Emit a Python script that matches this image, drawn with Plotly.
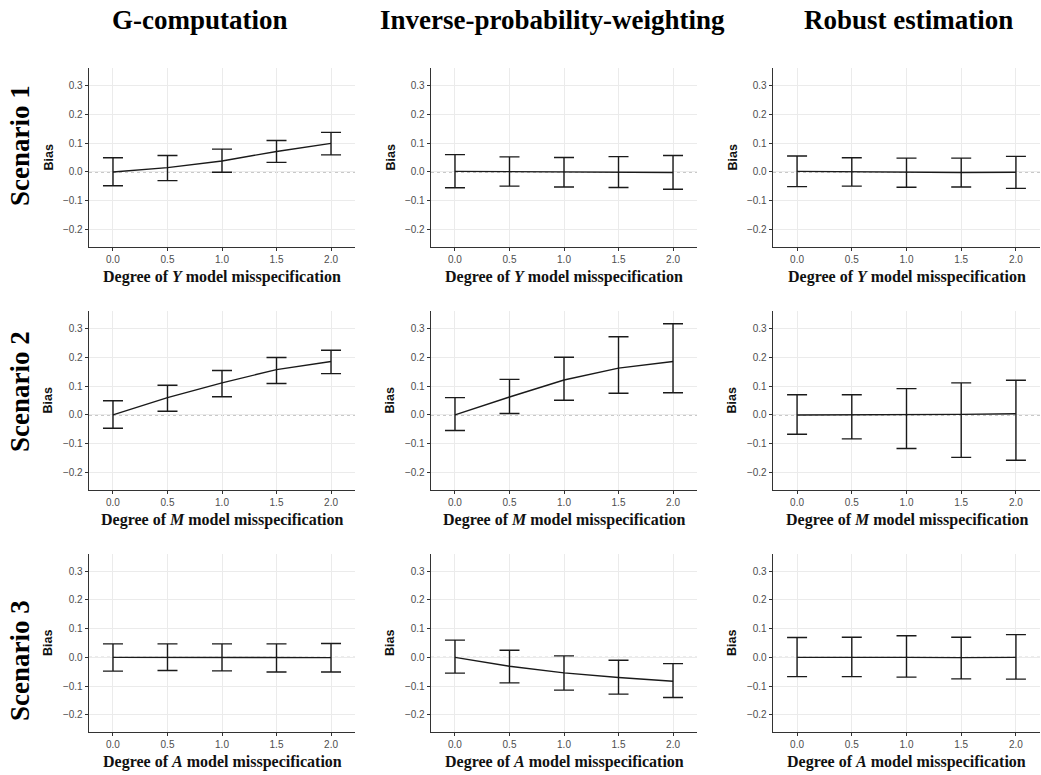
import plotly.graph_objects as go

# ---------------- data ----------------
degree = [0.0, 0.5, 1.0, 1.5, 2.0]
x_tick_labels = ["0.0", "0.5", "1.0", "1.5", "2.0"]
y_tick_vals = [-0.2, -0.1, 0.0, 0.1, 0.2, 0.3]
y_tick_labels = ["\u22120.2", "\u22120.1", "0.0", "0.1", "0.2", "0.3"]

methods = ["G-computation", "Inverse-probability-weighting", "Robust estimation"]
scenarios = ["Scenario 1", "Scenario 2", "Scenario 3"]
misspec_letters = ["Y", "M", "A"]

# Scenario 1
gcomp_s1_mean = [0.000, 0.015, 0.038, 0.071, 0.099]
gcomp_s1_low = [-0.048, -0.030, -0.001, 0.033, 0.059]
gcomp_s1_up = [0.049, 0.057, 0.079, 0.109, 0.137]

ipw_s1_mean = [0.002, 0.001, -0.001, -0.001, -0.002]
ipw_s1_low = [-0.055, -0.049, -0.052, -0.054, -0.060]
ipw_s1_up = [0.060, 0.052, 0.050, 0.053, 0.057]

rob_s1_mean = [0.002, 0.000, -0.002, -0.002, -0.001]
rob_s1_low = [-0.051, -0.049, -0.053, -0.052, -0.057]
rob_s1_up = [0.055, 0.049, 0.048, 0.048, 0.054]

# Scenario 2
gcomp_s2_mean = [0.000, 0.060, 0.111, 0.157, 0.185]
gcomp_s2_low = [-0.046, 0.013, 0.063, 0.109, 0.143]
gcomp_s2_up = [0.049, 0.103, 0.154, 0.199, 0.224]

ipw_s2_mean = [0.000, 0.062, 0.121, 0.162, 0.185]
ipw_s2_low = [-0.054, 0.005, 0.051, 0.075, 0.077]
ipw_s2_up = [0.060, 0.123, 0.200, 0.271, 0.316]

rob_s2_mean = [0.000, 0.000, 0.001, 0.002, 0.004]
rob_s2_low = [-0.067, -0.083, -0.116, -0.147, -0.157]
rob_s2_up = [0.070, 0.070, 0.091, 0.111, 0.120]

# Scenario 3
gcomp_s3_mean = [0.000, 0.000, 0.000, -0.001, -0.001]
gcomp_s3_low = [-0.048, -0.046, -0.047, -0.051, -0.051]
gcomp_s3_up = [0.047, 0.047, 0.047, 0.047, 0.048]

ipw_s3_mean = [0.000, -0.031, -0.054, -0.070, -0.083]
ipw_s3_low = [-0.055, -0.089, -0.114, -0.128, -0.140]
ipw_s3_up = [0.060, 0.025, 0.005, -0.010, -0.022]

rob_s3_mean = [0.000, 0.001, 0.000, -0.001, 0.000]
rob_s3_low = [-0.067, -0.067, -0.069, -0.075, -0.076]
rob_s3_up = [0.069, 0.070, 0.075, 0.070, 0.079]

panels = [
    [(gcomp_s1_mean, gcomp_s1_low, gcomp_s1_up),
     (ipw_s1_mean, ipw_s1_low, ipw_s1_up),
     (rob_s1_mean, rob_s1_low, rob_s1_up)],
    [(gcomp_s2_mean, gcomp_s2_low, gcomp_s2_up),
     (ipw_s2_mean, ipw_s2_low, ipw_s2_up),
     (rob_s2_mean, rob_s2_low, rob_s2_up)],
    [(gcomp_s3_mean, gcomp_s3_low, gcomp_s3_up),
     (ipw_s3_mean, ipw_s3_low, ipw_s3_up),
     (rob_s3_mean, rob_s3_low, rob_s3_up)],
]

# ---------------- layout (pixels of the page) ----------------
W, H = 1041, 775
col_px = [(89, 355), (431, 697), (773, 1040)]
row_px = [(68, 247), (311, 490), (554, 732)]

def px_x(p):
    return p / W

def px_y(p):
    return 1 - p / H

SERIF = "Liberation Serif, Times New Roman, serif"
SANS = "Liberation Sans, Arial, Helvetica, sans-serif"
INK = "#1a1a1a"
AXIS = "#333333"
TICKTXT = "#4d4d4d"
GRID = "#ebebeb"

fig = go.Figure()
annotations = []
shapes = []

k = 0
for r in range(3):
    for c in range(3):
        k += 1
        xa = "x" if k == 1 else f"x{k}"
        ya = "y" if k == 1 else f"y{k}"
        mean, low, up = panels[r][c]
        err_up = [u - m for u, m in zip(up, mean)]
        err_dn = [m - l for m, l in zip(mean, low)]
        fig.add_trace(go.Scatter(
            x=degree, y=mean, mode="lines",
            line=dict(color=INK, width=1.4),
            error_y=dict(type="data", symmetric=False, array=err_up,
                         arrayminus=err_dn, color=INK, thickness=1.4, width=10),
            xaxis=xa, yaxis=ya, showlegend=False, hoverinfo="skip",
        ))
        x0, x1 = col_px[c]
        y0, y1 = row_px[r]
        xkey = "xaxis" if k == 1 else f"xaxis{k}"
        ykey = "yaxis" if k == 1 else f"yaxis{k}"
        fig.layout[xkey] = dict(
            domain=[px_x(x0), min(1.0, px_x(x1))], anchor=ya, range=[-0.22, 2.22],
            tickvals=degree, ticktext=x_tick_labels,
            showgrid=True, gridcolor=GRID, gridwidth=1,
            zeroline=False, showline=True, linecolor=AXIS, linewidth=1.3,
            ticks="outside", ticklen=3, tickcolor=AXIS, tickwidth=1,
            tickfont=dict(family=SANS, size=10, color=TICKTXT),
        )
        fig.layout[ykey] = dict(
            domain=[px_y(y1), px_y(y0)], anchor=xa, range=[-0.26, 0.36],
            tickvals=y_tick_vals, ticktext=y_tick_labels,
            showgrid=True, gridcolor=GRID, gridwidth=1,
            zeroline=False, showline=True, linecolor=AXIS, linewidth=1.3,
            ticks="outside", ticklen=3, tickcolor=AXIS, tickwidth=1,
            tickfont=dict(family=SANS, size=10, color=TICKTXT),
        )
        # reference line at zero
        shapes.append(dict(
            type="line", xref=f"{xa} domain", yref=ya, x0=0, x1=1, y0=0, y1=0,
            line=dict(color="#777777", width=0.9, dash="dot"), layer="below",
        ))
        # y title
        annotations.append(dict(
            text="<b>Bias</b>", xref="paper", yref="paper",
            x=px_x(x0 - 41), y=px_y((y0 + y1) / 2), textangle=-90,
            showarrow=False, xanchor="center", yanchor="middle",
            font=dict(family=SANS, size=12.5, color="#111111"),
        ))
        # x title
        letter = misspec_letters[r]
        annotations.append(dict(
            text=f"<b>Degree of <i>{letter}</i> model misspecification</b>",
            xref="paper", yref="paper",
            x=px_x((x0 + x1) / 2), y=px_y(y1 + 30),
            showarrow=False, xanchor="center", yanchor="middle",
            font=dict(family=SERIF, size=16, color="#111111"),
        ))

# column titles
col_title_x = [200, 552, 908]
for c in range(3):
    annotations.append(dict(
        text=f"<b>{methods[c]}</b>", xref="paper", yref="paper",
        x=px_x(col_title_x[c]), y=px_y(20), showarrow=False,
        xanchor="center", yanchor="middle",
        font=dict(family=SERIF, size=27, color="#000000"),
    ))

# row titles
row_title_y = [146, 392, 661]
for r in range(3):
    annotations.append(dict(
        text=f"<b>{scenarios[r]}</b>", xref="paper", yref="paper",
        x=px_x(20), y=px_y(row_title_y[r]), textangle=-90, showarrow=False,
        xanchor="center", yanchor="middle",
        font=dict(family=SERIF, size=27, color="#000000"),
    ))

fig.update_layout(
    width=W, height=H, margin=dict(l=0, r=0, t=0, b=0),
    paper_bgcolor="white", plot_bgcolor="white",
    annotations=annotations, shapes=shapes, showlegend=False,
)

# remove the default page margin so the figure fills the window exactly
fig.write_html(
    "out.html",
    config={"displayModeBar": False, "staticPlot": True},
    post_script="document.body.style.margin='0';document.body.style.overflow='hidden';",
)
